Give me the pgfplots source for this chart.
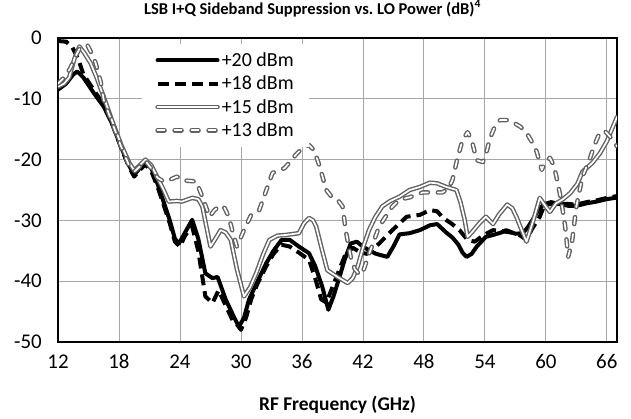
\documentclass[border=0pt]{standalone}
\usepackage{pgfplots}
\pgfplotsset{compat=1.18}
\usepackage{fontspec}
\setmainfont{Carlito}
\begin{document}
\begin{tikzpicture}
\path[use as bounding box] (-58bp,-77bp) rectangle (573bp,342bp);
\begin{axis}[
  scale only axis, width=559bp, height=304bp,
  at={(0,0)}, anchor=south west,
  xmin=12, xmax=67, ymin=-50, ymax=0,
  xtick={12,18,...,66}, ytick={-50,-40,...,0},
  grid=major, major grid style={black!35, line width=0.8bp},
  major tick length=0pt,
  axis line style={line width=2.8bp, black},
  /pgf/number format/assume math mode=true,
  ticklabel style={font=\fontsize{21}{24}\selectfont},
  xticklabel style={anchor=base, yshift=-26.5bp},
  yticklabel style={anchor=east, inner sep=0pt, xshift=-16bp},
  title={LSB I+Q Sideband Suppression vs.\ LO Power (dB)\textsuperscript{4}},
  title style={font=\bfseries\fontsize{16.6}{19}\selectfont, at={(0.5,1)}, anchor=base, yshift=18bp, xshift=-25bp},
  xlabel={RF Frequency (GHz)},
  xlabel style={font=\bfseries\fontsize{19.5}{22}\selectfont, at={(0.5,0)}, anchor=base, yshift=-68.5bp},
  legend style={at={(0.1505,0.982)}, anchor=north west, draw=none, fill=white, inner xsep=13bp, inner ysep=7bp, font=\fontsize{20}{24}\selectfont, row sep=4bp, cells={anchor=west}},
  legend image code/.code={\draw (0bp,0bp) -- (60bp,0bp);},
  every axis plot/.append style={line join=round},
]
% +20 dBm
\addplot[black, line width=4bp, line cap=round] coordinates {
(12,-8.5)(12.8,-7.5)(13.5,-6)(13.9,-5.5)(14.5,-6.5)(15.5,-9)(16.5,-11.3)(17.3,-14)(18.2,-17.9)(19,-21)(19.5,-22.5)(20,-21.5)(20.6,-20.3)(21.2,-21.5)(21.8,-24)(22.5,-27.5)(23,-30)(23.5,-33)(23.9,-33.8)(24.5,-32)(25.2,-29.9)(25.8,-33)(26.5,-38.7)(27.2,-39.5)(27.7,-39.3)(28.5,-43)(29.2,-45.5)(29.8,-47.5)(30.3,-46)(30.8,-43)(31.5,-40.5)(32.5,-37)(33.2,-35)(34,-33.2)(34.8,-33.2)(35.7,-34.3)(36.7,-35.4)(37.3,-37.5)(38,-40.9)(38.6,-44.7)(39.1,-42.5)(39.7,-39.3)(40.2,-36.5)(40.8,-33.8)(41.4,-33.5)(42,-34.3)(42.7,-35)(43.3,-35.5)(44.4,-36)(45,-34.3)(45.6,-32.3)(46.6,-32.1)(47.6,-31.6)(48.6,-30.8)(49.3,-30.6)(50.2,-32)(50.8,-32.8)(51.4,-34)(51.8,-35.3)(52.2,-36)(52.7,-35.5)(53.2,-34.3)(54.1,-32.7)(54.8,-32.4)(55.6,-32)(56.1,-31.6)(57,-32.2)(57.7,-32.1)(58.2,-31.2)(58.7,-29.9)(59.2,-28.5)(59.7,-27.5)(60.5,-27.3)(61.4,-27.3)(62.2,-27.6)(63,-27.6)(64,-27.2)(65,-26.9)(66,-26.5)(66.8,-26.3)(67,-26.2)
};
\addlegendentry{+20 dBm}
% +18 dBm
\addplot[black, line width=4bp, dash pattern=on 11bp off 6bp] coordinates {
(12,-0.5)(12.8,-0.6)(13.4,-1.5)(14,-3.5)(14.5,-6)(15.5,-8.5)(16.5,-11)(17.3,-14)(18.2,-18)(19,-21.3)(19.5,-22.8)(20,-21.8)(20.6,-20.8)(21.2,-22)(21.8,-24.5)(22.5,-28)(23,-30.5)(23.5,-33.5)(24,-34.3)(24.5,-32.5)(25.2,-31)(25.8,-35)(26.5,-42.5)(27.2,-43.6)(27.8,-41.5)(28.5,-44)(29.2,-46.5)(29.7,-47.3)(30,-48)(30.5,-46)(31,-43)(31.6,-40.5)(32.5,-37.5)(33.2,-35.5)(34,-34)(34.8,-34.3)(35.7,-35.3)(36.7,-36.5)(37.3,-39.5)(37.9,-43)(38.4,-43.5)(39,-41)(39.7,-38)(40.3,-35.5)(41,-34.5)(41.8,-35.3)(42.4,-35.5)(43.6,-33.8)(44.9,-31.6)(46.3,-29.4)(47.6,-29.1)(48.6,-28.3)(49.3,-28.5)(49.9,-29.6)(50.7,-30.5)(51.5,-31.6)(52.3,-33.2)(53,-33.5)(53.8,-32.5)(54.8,-31.6)(55.8,-31.8)(56.6,-32)(57.4,-32.4)(58.1,-33.2)(58.6,-31.5)(59.4,-29.4)(59.9,-27.3)(60.5,-27)(61.4,-27.3)(62.2,-27.3)(63,-27.4)(64,-27)(65,-26.7)(66,-26.3)(67,-26)
};
\addlegendentry{+18 dBm}
% +15 dBm
\addplot[draw=black!62, line width=1.4bp, double=white, double distance=1.7bp, line cap=round] coordinates {
(12,-8)(12.6,-7.5)(13.1,-6.5)(13.6,-3.5)(14.1,-1.4)(14.6,-2.5)(15.2,-4.1)(15.8,-6.5)(16.5,-9.7)(17.3,-13.5)(18.2,-17.5)(19,-20.5)(19.5,-21.8)(20,-21)(20.6,-20)(21.2,-21)(21.8,-23)(22.4,-25)(22.9,-26.9)(23.7,-26.8)(24.2,-26.9)(25.2,-26.3)(25.8,-26.5)(26.2,-27.7)(26.6,-31)(27,-34.3)(27.5,-33)(28,-31.6)(28.5,-32)(29,-33.2)(29.6,-38)(30.3,-42.5)(30.9,-41)(31.5,-38.7)(32.2,-35.5)(32.8,-33.2)(33.6,-32.5)(34.4,-32.4)(35.7,-32.1)(36.2,-30.5)(36.7,-29.6)(37.1,-30)(37.4,-31)(38,-35)(38.5,-38.2)(39.5,-39.3)(40.5,-40.3)(41,-39.5)(41.5,-37.5)(42,-34.5)(42.6,-31.6)(43.2,-29.5)(43.9,-27.7)(44.7,-26.8)(45.6,-26.1)(46.6,-25)(47.6,-24.5)(48.6,-23.8)(49.3,-23.9)(50.2,-24.5)(51.2,-25)(51.6,-27)(52,-29.8)(52.3,-32.7)(52.7,-32)(53.5,-30.4)(54.1,-29.4)(54.8,-30.6)(55.4,-29)(56.2,-27.4)(56.7,-28)(57.1,-29.4)(57.6,-31.5)(58.1,-33.5)(58.8,-29.8)(59.4,-26.3)(59.9,-27.5)(60.4,-28.6)(61,-27.2)(61.7,-26.5)(62.4,-25.5)(63.1,-24)(63.6,-22)(64.6,-20.5)(65.3,-19)(66,-17)(66.5,-15)(67,-13)
};
\addlegendentry{+15 dBm}
% +13 dBm
\addplot[draw=black!62, line width=1.4bp, double=white, double distance=1.7bp, line cap=round, dash pattern=on 7bp off 10bp] coordinates {
(12,-7.5)(12.6,-6.5)(13.2,-5)(13.7,-3.1)(14.2,-1.5)(14.9,-1.2)(15.3,-2.5)(15.7,-4.1)(16.2,-7.2)(16.5,-10.2)(17.3,-13.8)(18.2,-17.8)(19,-21)(19.5,-22)(20,-21.2)(20.6,-20.2)(21.2,-21.5)(21.8,-23)(22.4,-23.6)(22.9,-23.4)(23.7,-22.8)(24.2,-23.4)(25.6,-23.6)(26.2,-26.1)(26.9,-29.4)(27.4,-28.3)(28,-27.5)(28.4,-28)(28.8,-29.4)(29.2,-32)(29.6,-34.3)(30.3,-31.6)(31,-29.1)(31.8,-28.3)(32.5,-25)(33.1,-22.2)(34.3,-21.4)(35.4,-19.2)(36.1,-18)(36.7,-17.6)(37.2,-18.5)(37.7,-20.9)(38.4,-25)(39,-26.3)(39.6,-26.8)(40,-27.7)(40.3,-31.6)(40.8,-36)(41.2,-38)(41.7,-39)(42.1,-38)(42.5,-36)(43.6,-31)(44.9,-27.7)(45.6,-26.6)(46.6,-26.2)(47.9,-25.4)(49.8,-25.4)(50.4,-24.8)(50.8,-23.4)(51.3,-19.8)(51.8,-16.8)(52.3,-15.5)(52.7,-16.8)(53.2,-20.1)(53.8,-20.4)(54.2,-18.5)(54.5,-16.5)(55,-14.5)(55.5,-13.5)(56.2,-13.5)(56.8,-13.9)(57.5,-14.6)(58.1,-15.6)(58.6,-17)(59.1,-18.7)(59.6,-21.7)(59.9,-20.5)(60.4,-19.7)(60.7,-20.7)(61,-22.5)(61.5,-26.6)(61.9,-31)(62.2,-36)(62.6,-33.2)(63,-27.7)(63.6,-22.8)(64.3,-20)(64.8,-17.5)(65.3,-15.6)(65.8,-15.3)(66.3,-16.2)(66.9,-17.6)(67,-17.8)
};
\addlegendentry{+13 dBm}
\end{axis}
\end{tikzpicture}
\end{document}
